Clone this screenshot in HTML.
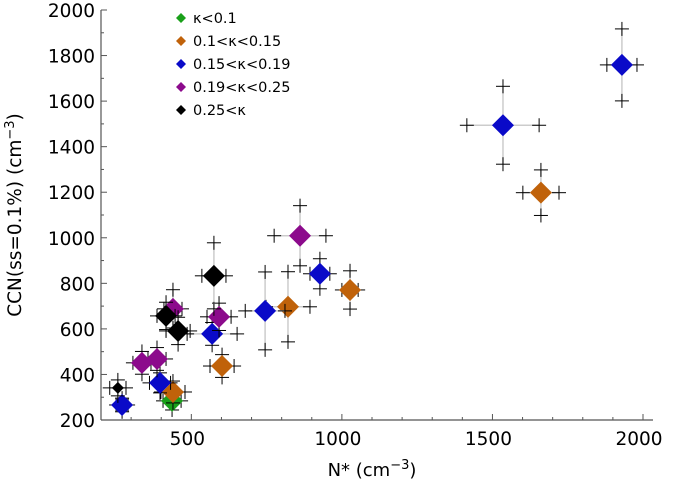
<!DOCTYPE html>
<html><head><meta charset="utf-8"><style>
body{margin:0;background:#fff;}
svg{display:block;font-family:"DejaVu Sans","Liberation Sans",sans-serif;}
</style></head><body>
<svg id="chart" width="673" height="486"></svg>
<script>
const xTicks=[500,1000,1500,2000];
const yTicks=[200,400,600,800,1000,1200,1400,1600,1800,2000];
const seriesNames=["κ<0.1","0.1<κ<0.15","0.15<κ<0.19","0.19<κ<0.25","0.25<κ"];
const seriesColors=["#1aa01a","#c0620a","#0a0ac8","#8c0a8c","#000000"];
// each point: x, y, xerr, yerr
const greenPts=[[436,284,30,40]];
const orangePts=[[439,323,40,48],[602,437,40,50],[821,697,73,154],[1027,771,27,84],[1661,1198,60,100]];
const bluePts=[[270,266,20,30],[396,363,35,44],[569,578,83,50],[745,679,66,171],[927,842,33,66],[1535,1494,120,171],[1930,1759,50,158]];
const purplePts=[[336,451,30,50],[386,468,30,50],[439,688,30,84],[592,653,40,60],[861,1009,86,132]];
const blackPts=[[256,341,27,35],[416,657,30,60],[456,591,40,60],[575,833,40,145]];
const allSeries=[greenPts,orangePts,bluePts,purplePts,blackPts];

const NS="http://www.w3.org/2000/svg";
const svg=document.getElementById('chart');
const X0=101,X1=643,Y0=420,Y1=10;
const xs=v=>X0+(v-200)/1800*(X1-X0);
const ys=v=>Y0-(v-200)/1800*(Y0-Y1);
function mk(t,a,p){const e=document.createElementNS(NS,t);for(const k in a)e.setAttribute(k,a[k]);(p||svg).appendChild(e);return e;}

const ax=mk('line',{x1:X0,y1:Y1,x2:X0,y2:Y0,stroke:'#555','stroke-width':1.2});


const bx=mk('line',{x1:X0,y1:Y0,x2:X1+10,y2:Y0,stroke:'#555','stroke-width':1.2});


for(let v=200;v<=2000;v+=100){
  mk('line',{x1:xs(v),y1:Y0,x2:xs(v),y2:Y0-(v%500==0?6:3),stroke:'#555'});
}
for(let v=200;v<=2000;v+=100){
  mk('line',{x1:X0,y1:ys(v),x2:X0+(v%200==0?6:3),y2:ys(v),stroke:'#555'});
}
xTicks.forEach(v=>{const t=mk('text',{x:xs(v)-4,y:Y0+25,'text-anchor':'middle','font-size':18.5});t.textContent=v;

});
yTicks.forEach(v=>{const t=mk('text',{x:X0-6,y:ys(v)+7,'text-anchor':'end','font-size':18.5});t.textContent=v;

});
const xt=mk('text',{x:372,y:476,'text-anchor':'middle','font-size':18});
xt.innerHTML='N* (cm<tspan dy="-7" font-size="13">−3</tspan><tspan dy="7">)</tspan>';


const yt=mk('text',{x:0,y:0,'text-anchor':'middle','font-size':18.5,transform:'translate(21,215) rotate(-90)'});
yt.innerHTML='CCN(ss=0.1%) (cm<tspan dy="-7" font-size="13">−3</tspan><tspan dy="7">)</tspan>';



function cross(x,y){const g=mk('g',{stroke:'#000','stroke-width':1});
 mk('line',{x1:x-7,y1:y,x2:x+7,y2:y},g);mk('line',{x1:x,y1:y-7,x2:x,y2:y+7},g);return g;}
function diamond(x,y,r,c,p){return mk('polygon',{points:`${x},${y-r} ${x+r},${y} ${x},${y+r} ${x-r},${y}`,fill:c},p);}

allSeries.forEach((pts,si)=>{
  const g=mk('g',{});
  
  
  pts.forEach(p=>{
    const cx=xs(p[0]),cy=ys(p[1]);
    const x1=xs(p[0]-p[2]),x2=xs(p[0]+p[2]),y1=ys(p[1]+p[3]),y2=ys(p[1]-p[3]);
    mk('line',{x1:x1,y1:cy,x2:x2,y2:cy,stroke:'#ccc','stroke-width':1.5},g);
    mk('line',{x1:cx,y1:y1,x2:cx,y2:y2,stroke:'#ccc','stroke-width':1.5},g);
    [[x1,cy],[x2,cy],[cx,y1],[cx,y2]].forEach(q=>g.appendChild(cross(q[0],q[1])));
  });
  pts.forEach(p=>{
    const d=diamond(xs(p[0]),ys(p[1]),(si==4&&p[0]<300)?6:11,seriesColors[si],g);
    
    
  });
});

seriesNames.forEach((n,i)=>{
  const y=18+i*23;
  const g=mk('g',{});
  
  
  diamond(181,y,5,seriesColors[i],g);
  const t=mk('text',{x:193,y:y+5,'font-size':14.5},g);t.textContent=n;
});
</script>
</body></html>
